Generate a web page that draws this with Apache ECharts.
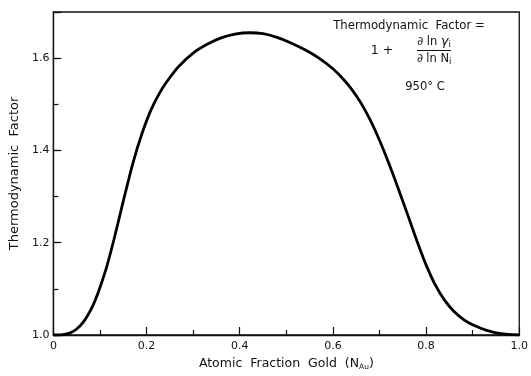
<!DOCTYPE html>
<html>
<head>
<meta charset="utf-8">
<script src="https://cdn.jsdelivr.net/npm/echarts@6/dist/echarts.min.js"></script>
<style>
html,body{margin:0;padding:0;background:#fff;}
#chart{width:531px;height:376px;}
</style>
</head>
<body>
<div id="chart"></div>
<script>
// Atomic fraction gold (x) and thermodynamic factor (y)
const xValues = [0, 0.02, 0.035, 0.05, 0.065, 0.08, 0.09, 0.10, 0.115, 0.13, 0.15, 0.17, 0.19, 0.21, 0.23, 0.25, 0.27, 0.30, 0.33, 0.36, 0.39, 0.42, 0.45, 0.48, 0.51, 0.54, 0.57, 0.60, 0.62, 0.64, 0.66, 0.68, 0.70, 0.72, 0.74, 0.76, 0.78, 0.80, 0.82, 0.84, 0.86, 0.88, 0.90, 0.93, 0.96, 1.0];
const factorValues = [1.0, 1.001, 1.004, 1.013, 1.029, 1.054, 1.076, 1.103, 1.150, 1.207, 1.29, 1.37, 1.436, 1.489, 1.528, 1.558, 1.583, 1.611, 1.630, 1.644, 1.652, 1.655, 1.653, 1.645, 1.633, 1.618, 1.600, 1.577, 1.557, 1.533, 1.503, 1.466, 1.422, 1.372, 1.318, 1.262, 1.205, 1.152, 1.108, 1.075, 1.051, 1.034, 1.022, 1.010, 1.003, 1.0];
const xTickLabels = ['0', '0.2', '0.4', '0.6', '0.8', '1.0'];
const yTickLabels = ['1.0', '1.2', '1.4', '1.6'];

const FONT = 'DejaVu Sans';
const INK = '#111';

const chart = echarts.init(document.getElementById('chart'), null, {renderer: 'canvas'});
const points = xValues.map((x, i) => [x, factorValues[i]]);

chart.setOption({
  animation: false,
  backgroundColor: '#fff',
  grid: {left: 51, right: 5, top: 12, bottom: 31, show: true, borderColor: INK, borderWidth: 1.3, backgroundColor: 'transparent'},
  xAxis: {
    type: 'value', min: 0, max: 1, interval: 0.2,
    name: 'Atomic  Fraction  Gold  (N{s|Au})',
    nameLocation: 'middle', nameGap: 21,
    nameTextStyle: {fontFamily: FONT, fontSize: 12.5, color: INK, rich: {s: {fontFamily: FONT, fontSize: 7.5, color: INK, verticalAlign: 'bottom', padding: [7, 0, 0, 0]}}},
    axisLine: {lineStyle: {color: INK, width: 1.3}},
    axisTick: {inside: true, length: 8, lineStyle: {color: INK, width: 1.2}},
    minorTick: {show: true, splitNumber: 2, length: 5, lineStyle: {color: INK, width: 1.2}},
    splitLine: {show: false},
    axisLabel: {fontFamily: FONT, fontSize: 11, color: INK, margin: 6,
      formatter: v => { const i = Math.round(v / 0.2); return Math.abs(v - i * 0.2) < 1e-6 ? xTickLabels[i] : ''; }}
  },
  yAxis: [{
    type: 'value', min: 1.0, max: 1.7, interval: 0.2, position: 'left',
    name: 'Thermodynamic  Factor', nameLocation: 'middle', nameGap: 24,
    nameTextStyle: {fontFamily: FONT, fontSize: 13, color: INK},
    axisLine: {show: true, lineStyle: {color: INK, width: 1.3}},
    axisTick: {show: true, inside: true, length: 8, lineStyle: {color: INK, width: 1.2}},
    splitLine: {show: false},
    axisLabel: {fontFamily: FONT, fontSize: 11, color: INK, margin: 4,
      formatter: v => { const i = Math.round((v - 1) / 0.2); return (Math.abs(v - 1 - i * 0.2) < 1e-6 && i < yTickLabels.length) ? yTickLabels[i] : ''; }}
  }, {
    type: 'value', min: 1.0, max: 1.7, interval: 0.1, position: 'left', offset: 0,
    axisLine: {show: false},
    axisTick: {show: true, inside: true, length: 5, lineStyle: {color: INK, width: 1.2}},
    axisLabel: {show: false},
    splitLine: {show: false}
  }],
  series: [{
    type: 'line', data: points, xAxisIndex: 0, yAxisIndex: 0,
    smooth: 0.25, showSymbol: false, symbol: 'none',
    lineStyle: {color: '#000', width: 2.8}
  }],
  graphic: [
    {type: 'text', style: {x: 409, y: 26, align: 'center', verticalAlign: 'middle', text: 'Thermodynamic  Factor =', fontFamily: FONT, fontSize: 11.7, fill: INK}},
    {type: 'text', style: {x: 382, y: 51, align: 'center', verticalAlign: 'middle', text: '1 +', fontFamily: FONT, fontSize: 12.5, fill: INK}},
    {type: 'text', style: {x: 434, y: 42, align: 'center', verticalAlign: 'middle', text: '∂ ln {g|γ}{s|i}', fontFamily: FONT, fontSize: 11.5, fill: INK,
      rich: {g: {fontFamily: FONT, fontStyle: 'italic', fontSize: 13, fill: INK}, s: {fontFamily: FONT, fontSize: 8.5, fill: INK, verticalAlign: 'bottom', padding: [6, 0, 0, 0]}}}},
    {type: 'line', shape: {x1: 417, y1: 50.5, x2: 451, y2: 50.5}, style: {stroke: INK, lineWidth: 1.2}},
    {type: 'text', style: {x: 434, y: 59, align: 'center', verticalAlign: 'middle', text: '∂ ln N{s|i}', fontFamily: FONT, fontSize: 11.5, fill: INK,
      rich: {s: {fontFamily: FONT, fontSize: 8.5, fill: INK, verticalAlign: 'bottom', padding: [6, 0, 0, 0]}}}},
    {type: 'text', style: {x: 425, y: 87, align: 'center', verticalAlign: 'middle', text: '950° C', fontFamily: FONT, fontSize: 11.5, fill: INK}}
  ]
});
</script>
</body>
</html>
